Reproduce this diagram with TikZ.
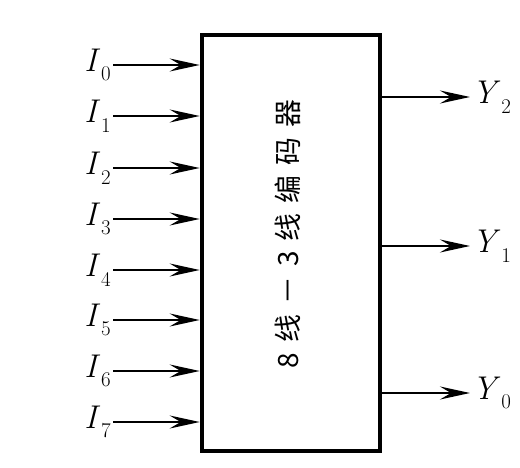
\documentclass[tikz,border=0pt]{standalone}
\usepackage{fontspec}
\newfontfamily\cjkfont[LetterSpace=36]{Noto Sans CJK SC}
\usetikzlibrary{arrows.meta}
\newcommand{\pinlabel}[2]{\textit{#1}\kern1bp\raisebox{-0.3em}{\fontsize{21}{22}\selectfont#2}}

\begin{document}
\begin{tikzpicture}[x=1bp,y=-1bp,
  every node/.style={font=\fontsize{33}{36}\selectfont,inner sep=2bp},
  sig/.style={line width=2.6bp,-{Stealth[length=30bp,width=13bp,inset=11bp]}}]
  \useasboundingbox (0,0) rectangle (520,468);
  \node[draw,line width=4.6bp,minimum width=178bp,minimum height=416bp,inner sep=0pt] (enc) at (291,243) {};
  \node[rotate=90,font=\cjkfont\fontsize{28}{30}\selectfont] (name) at (288,234) {8线－3线编码器};
  % inputs
  \foreach \k/\ypos in {0/65,1/116,2/168,3/219,4/270,5/320,6/371,7/422}
    {\node[anchor=east] (i\k) at (113,\ypos) {\pinlabel{I}{\k}};
     \draw[sig] (i\k.east) -- (i\k.east -| enc.west);}
  % outputs
  \foreach \k/\ypos in {2/97,1/246,0/393}
    {\node[anchor=west] (y\k) at (470,\ypos) {\pinlabel{Y}{\k}};
     \draw[sig] (y\k.west -| enc.east) -- (y\k.west);}
\end{tikzpicture}
\end{document}
